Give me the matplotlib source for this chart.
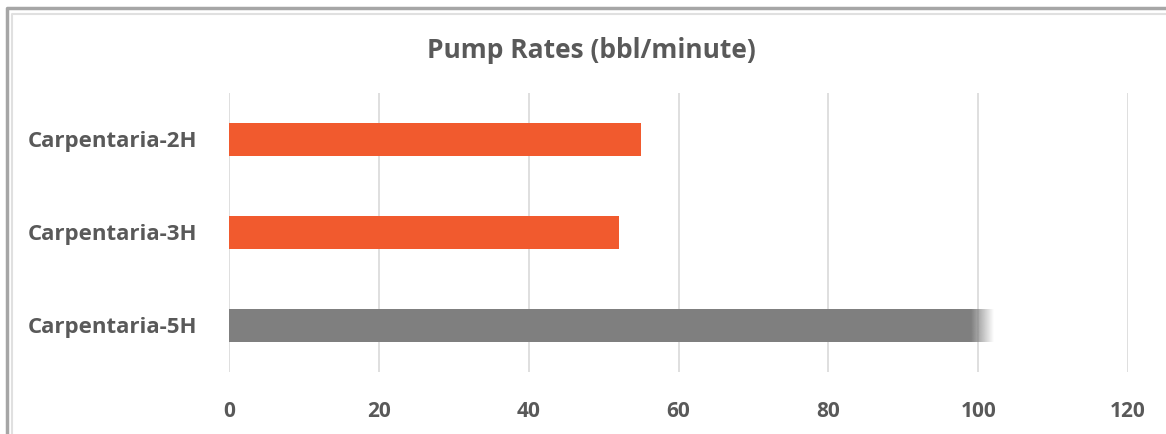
import matplotlib.pyplot as plt
import numpy as np
from matplotlib.lines import Line2D

wells = ["Carpentaria-2H", "Carpentaria-3H", "Carpentaria-5H"]
rates = [55, 52, 102]
colors = ["#f15a2e", "#f15a2e", "#7f7f7f"]
fade_start = 99  # gray bar fades out after this

plt.rcParams["font.family"] = ["Open Sans", "DejaVu Sans"]
text_color = "#595959"

fig = plt.figure(figsize=(11.66, 4.34), dpi=100)
ax = fig.add_axes([229 / 1166, 1 - 372 / 434, 899 / 1166, 279 / 434])

y = np.arange(len(wells))[::-1]
for yi, val, c in zip(y, rates, colors):
    if c == "#7f7f7f":
        # solid part plus gradient tail
        ax.barh(yi, fade_start, height=0.35, color=c, zorder=3)
        grad = np.linspace(1, 0, 64).reshape(1, -1)
        rgba = np.zeros((1, 64, 4))
        rgba[..., :3] = 127 / 255
        rgba[..., 3] = grad
        ax.imshow(rgba, extent=[fade_start, val, yi - 0.175, yi + 0.175],
                  aspect="auto", zorder=3, interpolation="bilinear")
    else:
        ax.barh(yi, val, height=0.35, color=c, zorder=3)

ax.set_xlim(0, 120)
ax.set_ylim(-0.5, 2.5)
ax.set_xticks(range(0, 121, 20))
ax.set_yticks(y)
ax.set_yticklabels(wells)
ax.grid(axis="x", color="#d9d9d9", linewidth=1.2, zorder=0)
for s in ax.spines.values():
    s.set_visible(False)
ax.tick_params(length=0, labelcolor=text_color)
ax.tick_params(axis="x", labelsize=15, pad=21)
ax.tick_params(axis="y", labelsize=16, pad=23)
for lbl in ax.get_xticklabels() + ax.get_yticklabels():
    lbl.set_fontweight("bold")

fig.text(591 / 1166, 1 - 50 / 434, "Pump Rates (bbl/minute)", ha="center", va="center",
         fontsize=19, fontweight="bold", color=text_color)

# chart frame, only left and top edges show
x0, y0 = 7 / 1166, 1 - 8 / 434
x1, y1 = 12 / 1166, 1 - 14 / 434
fig.add_artist(Line2D([x0, x0, 1.05], [-0.05, y0, y0], transform=fig.transFigure,
                      color="#a6a6a6", linewidth=2.5))
fig.add_artist(Line2D([x1, x1, 1.05], [-0.05, y1, y1], transform=fig.transFigure,
                      color="#e0e0e0", linewidth=1.5))

fig.savefig("out.png", dpi=100)
